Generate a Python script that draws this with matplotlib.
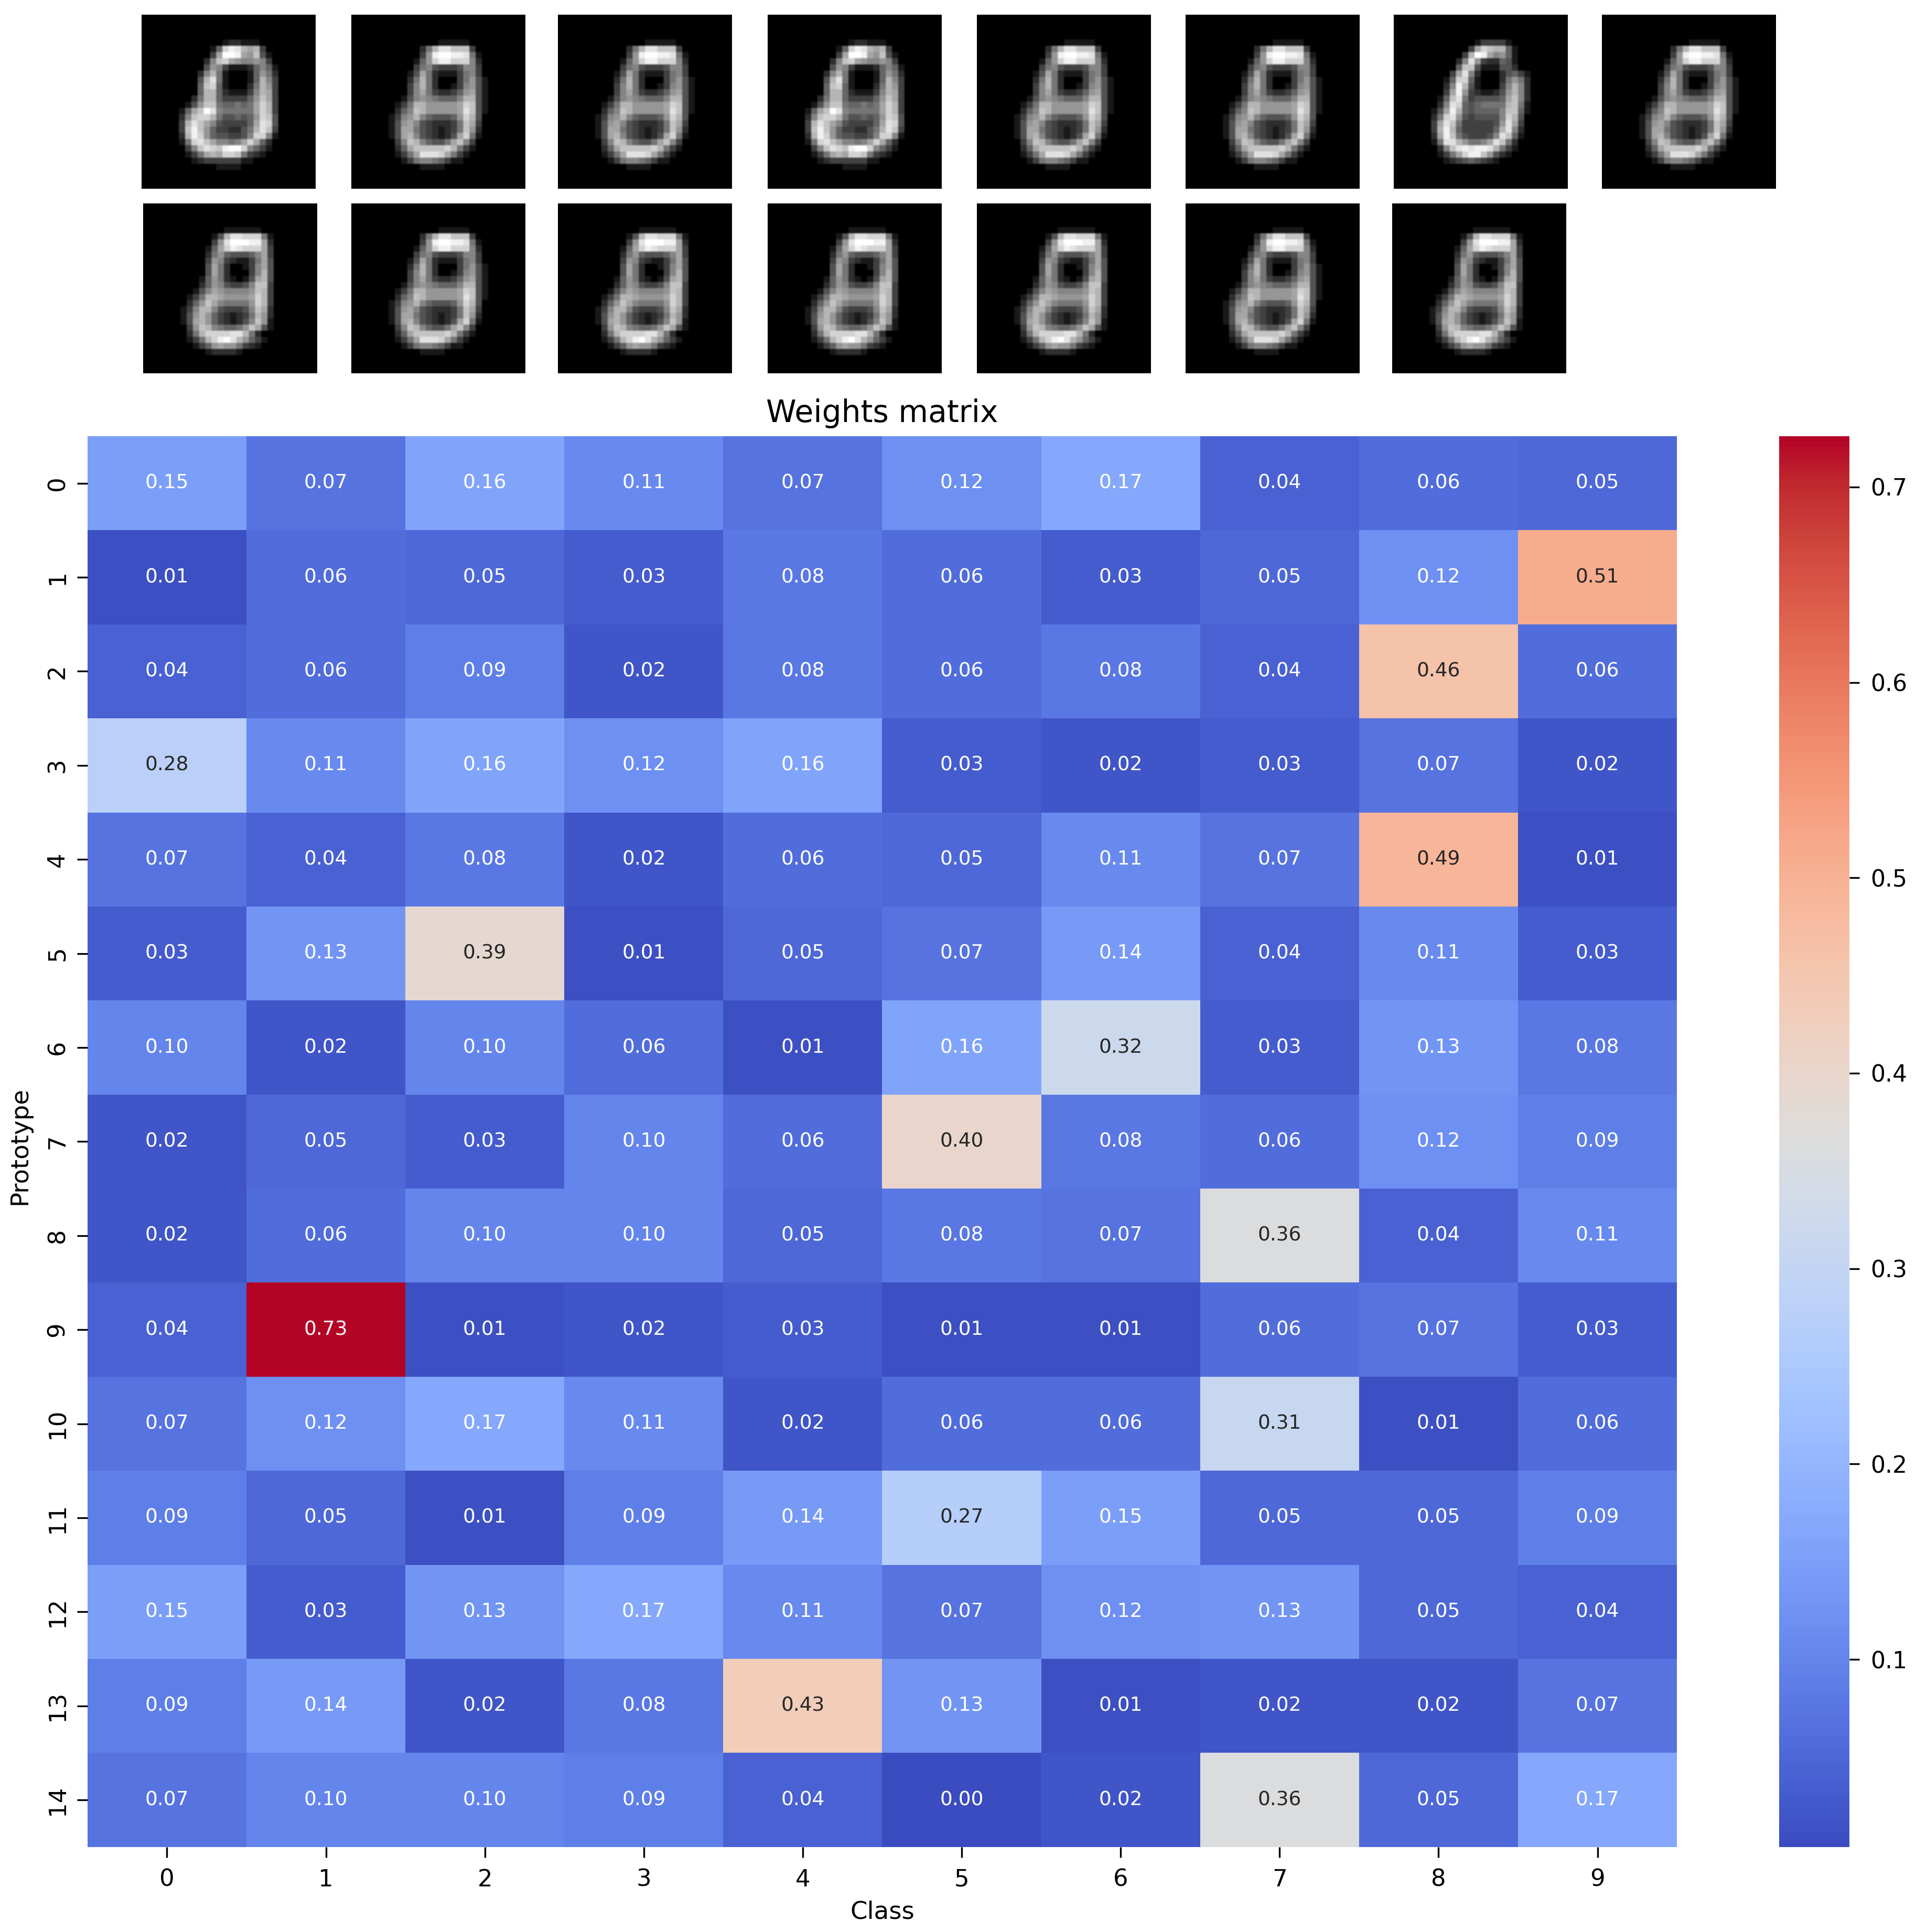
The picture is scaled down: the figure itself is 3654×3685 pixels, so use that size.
import matplotlib
matplotlib.use('Agg')
import matplotlib.pyplot as plt
import numpy as np
import seaborn as sns

# weights, one row per prototype
classes = list(range(10))
prototypes = list(range(15))
weights = [
    [0.15, 0.07, 0.16, 0.11, 0.07, 0.12, 0.17, 0.04, 0.06, 0.05],
    [0.01, 0.06, 0.05, 0.03, 0.08, 0.06, 0.03, 0.05, 0.12, 0.51],
    [0.04, 0.06, 0.09, 0.02, 0.08, 0.06, 0.08, 0.04, 0.46, 0.06],
    [0.28, 0.11, 0.16, 0.12, 0.16, 0.03, 0.02, 0.03, 0.07, 0.02],
    [0.07, 0.04, 0.08, 0.02, 0.06, 0.05, 0.11, 0.07, 0.49, 0.01],
    [0.03, 0.13, 0.39, 0.01, 0.05, 0.07, 0.14, 0.04, 0.11, 0.03],
    [0.10, 0.02, 0.10, 0.06, 0.01, 0.16, 0.32, 0.03, 0.13, 0.08],
    [0.02, 0.05, 0.03, 0.10, 0.06, 0.40, 0.08, 0.06, 0.12, 0.09],
    [0.02, 0.06, 0.10, 0.10, 0.05, 0.08, 0.07, 0.36, 0.04, 0.11],
    [0.04, 0.73, 0.01, 0.02, 0.03, 0.01, 0.01, 0.06, 0.07, 0.03],
    [0.07, 0.12, 0.17, 0.11, 0.02, 0.06, 0.06, 0.31, 0.01, 0.06],
    [0.09, 0.05, 0.01, 0.09, 0.14, 0.27, 0.15, 0.05, 0.05, 0.09],
    [0.15, 0.03, 0.13, 0.17, 0.11, 0.07, 0.12, 0.13, 0.05, 0.04],
    [0.09, 0.14, 0.02, 0.08, 0.43, 0.13, 0.01, 0.02, 0.02, 0.07],
    [0.07, 0.10, 0.10, 0.09, 0.04, 0.00, 0.02, 0.36, 0.05, 0.17],
]

# prototype pictures, hex brightness per pixel, rows 4-24 / columns 6-22 of the 28x28 image
shape_a = [
    "00000001221110000", "0000015ceda9a3000", "0000039ffe98b4100", "000027bc987787300",
    "00004873111257510", "00027a61000158620", "0004ad6100015a730", "0005bc5100026a830",
    "0005aa5211137a930", "0026aa5333358b930", "0148bb6556569ca30", "159bfd7666669ca30",
    "27bcca6445458cb40", "3adb974333359dc40", "3beb85332246adb30", "2aec85443347cc710",
    "16cdb977679c95200", "037bdcbeffc753100", "01369a9ccb6321000", "00123333331100000",
    "00000011110000000",
]
shape_b = [
    "00000000111110000", "0000026addbbb3000", "0000038effeed6100", "0000158ceeccc7200",
    "00003674333477300", "00014962111367300", "00026a62000368410", "00037a62001378410",
    "00037963223589410", "001478765557aa410", "0136aa888889cb410", "0257ba888889db410",
    "1378a7544458ca400", "148974322236b9300", "149964321236b8200", "149a74321249c6100",
    "037ba754469b73000", "0259bbbbbca631000", "01369dddc96310000", "00136776531100000",
    "00000111100000000",
]
shape_c = [
    "00000001333310000", "00000039cbaa51000", "000003afe97851000", "000027d8322541000",
    "00005bb4111442000", "00039d72000245310", "0015cc51000268620", "0027ea4100037a720",
    "0039e83211248a720", "015bd63444459b720", "027dc5456666ab610", "149ea5455557bb510",
    "26cd84344447ca400", "39db63333348d9300", "3aea5333335ad7200", "29eb6433347db5100",
    "16dda86679db62000", "027bdedeeda631000", "01369ceeb84210000", "00123454321000000",
    "00000000000000000",
]
shape_d = [
    "00000001111110000", "0000014addccc6100", "0000038dfffee9200", "0000159cedccc9300",
    "00002685444579300", "00003873211369400", "00004962001379400", "0000496200037a400",
    "0001586210149a400", "000258743347bb300", "001479877778ba300", "0136aa988889ca300",
    "0258b9766668ca300", "137aa7433347b9200", "148a85321236a8200", "149a85321247b8100",
    "038ba765568b94100", "026accccdda620000", "0136acefda8531000", "00135898863210000",
    "00001222210000000",
]
top_row = [shape_a, shape_b, shape_b, shape_a, shape_b, shape_b, shape_c, shape_b]
bottom_row = [shape_d, shape_b, shape_d, shape_d, shape_d, shape_b, shape_d]


def to_image(rows):
    img = np.zeros((28, 28))
    for r, line in enumerate(rows):
        for c, ch in enumerate(line):
            img[r + 4, c + 6] = int(ch, 16) / 15
    # blocky pixels with soft edges, like the upscaled original
    return np.kron(img, np.ones((3, 3))) ** 0.85


W, H = 1555.0, 1568.0


def box(left, right, top, bottom):
    return [left / W, 1 - bottom / H, (right - left) / W, (bottom - top) / H]


fig = plt.figure(figsize=(3654 / 300, 3685 / 300), dpi=300)

top_lefts = [115, 285, 453, 623, 793, 962, 1131, 1300]
bottom_lefts = [116, 285, 453, 623, 793, 962, 1130]
for lefts, shapes, y0, y1 in [(top_lefts, top_row, 12, 153), (bottom_lefts, bottom_row, 165, 303)]:
    for left, shape in zip(lefts, shapes):
        ax_img = fig.add_axes(box(left, left + 141, y0, y1))
        ax_img.imshow(to_image(shape), cmap='gray', vmin=0, vmax=1, aspect='auto', interpolation='bilinear')
        ax_img.axis('off')

ax = fig.add_axes(box(71, 1361, 354, 1499))
cax = fig.add_axes(box(1444, 1501, 354, 1499))
sns.heatmap(np.array(weights), ax=ax, cbar_ax=cax, cmap='coolwarm', vmin=0.004, vmax=0.726,
            annot=True, fmt='.2f', annot_kws={'size': 9},
            xticklabels=classes, yticklabels=prototypes)
ax.tick_params(labelsize=10.8, length=4.8, width=0.8, pad=5)
ax.tick_params(axis='y', pad=3.8)
ax.set_yticklabels(prototypes, rotation=90, va='center')
cax.tick_params(labelsize=10.6, length=4.5, width=0.8, pad=5)
cax.set_yticks([0.1, 0.2, 0.3, 0.4, 0.5, 0.6, 0.7])
ax.set_title('Weights matrix', fontsize=14, pad=6.5)
ax.set_xlabel('Class', fontsize=11.2, va='center')
ax.set_ylabel('Prototype', fontsize=11.2, va='center')
ax.xaxis.set_label_coords(0.5, -0.0463)
ax.yaxis.set_label_coords(-0.0426, 0.497)

fig.savefig('out.png', dpi=300)
